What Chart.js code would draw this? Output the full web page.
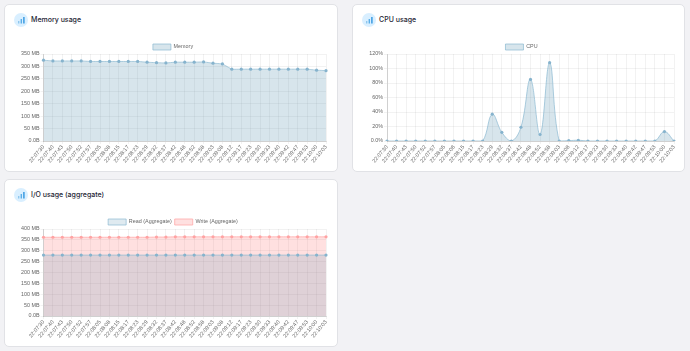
<!DOCTYPE html>
<html><head><meta charset="utf-8">
<script src="https://cdn.jsdelivr.net/npm/chart.js@4"></script>
<style>
html,body{margin:0;padding:0;background:#f2f2f5;width:690px;height:351px;overflow:hidden;font-family:Inter,"Noto Sans",sans-serif}
.card{position:absolute;background:#fff;border:1px solid #e1e2e6;border-radius:5px;box-sizing:border-box}
.ico{position:absolute;left:9px;top:8px;width:14px;height:14px;border-radius:50%;background:#d9efff}
.ico svg{position:absolute;left:0;top:0}
.ttl{position:absolute;left:26px;top:8px;font-size:7px;line-height:14px;font-weight:500;color:#1d2433;white-space:nowrap}
canvas{position:absolute;filter:blur(0.3px)}
</style></head><body>
<div class="card" style="left:4px;top:4px;width:334px;height:168px"><div class="ico"><svg width="14" height="14"><rect x="4" y="8" width="1.4" height="2.5" fill="#8fc7ee"/><rect x="6.6" y="6" width="1.4" height="4.5" fill="#5aaee8"/><rect x="9.2" y="4" width="1.4" height="6.5" fill="#2f95e0"/></svg></div><div class="ttl">Memory usage</div></div>
<div class="card" style="left:352px;top:4px;width:333px;height:168px"><div class="ico"><svg width="14" height="14"><rect x="4" y="8" width="1.4" height="2.5" fill="#8fc7ee"/><rect x="6.6" y="6" width="1.4" height="4.5" fill="#5aaee8"/><rect x="9.2" y="4" width="1.4" height="6.5" fill="#2f95e0"/></svg></div><div class="ttl">CPU usage</div></div>
<div class="card" style="left:4px;top:179px;width:334px;height:168px"><div class="ico"><svg width="14" height="14"><rect x="4" y="8" width="1.4" height="2.5" fill="#8fc7ee"/><rect x="6.6" y="6" width="1.4" height="4.5" fill="#5aaee8"/><rect x="9.2" y="4" width="1.4" height="6.5" fill="#2f95e0"/></svg></div><div class="ttl">I/O usage (aggregate)</div></div>
<canvas id="c1" width="334" height="136" style="left:4px;top:36px;width:334px;height:136px"></canvas>
<canvas id="c2" width="333" height="136" style="left:352px;top:36px;width:333px;height:136px"></canvas>
<canvas id="c3" width="334" height="136" style="left:4px;top:211px;width:334px;height:136px"></canvas>
<script>
const timeLabels=["22:07:30","22:07:40","22:07:43","22:07:50","22:07:52","22:07:57","22:08:05","22:08:08","22:08:15","22:08:17","22:08:23","22:08:29","22:08:32","22:08:37","22:08:42","22:08:48","22:08:52","22:08:58","22:09:03","22:09:08","22:09:12","22:09:17","22:09:23","22:09:30","22:09:33","22:09:40","22:09:42","22:09:47","22:09:53","22:10:00","22:10:03"];
const memoryMB=[325,322,322,322,322,320,320,320,320,320,320,317,315,314,317,317,317,318,313,310,289,289,289,289,289,289,289,289,289,285,283];
const cpuPct=[0,0,0,0,0,0,0,0,0,0,0,37,12,0,19,85,9,108,0,0.5,1,0,0,0,0,0,0,0,0,13,0];
const readMB=[280,280,280,280,280,280,280,280,280,280,280,280,280,280,280,280,280,280,280,280,280,280,280,280,280,280,280,280,280,280,280];
const writeMB=[362,362,362,362,362,362,362,362,362,362,362,362,363,363,364,364,364,364,364,364,364,364,364,364,364,364,364,364,364,364,364];
const blue={bg:'rgba(75,137,170,0.22)',line:'rgba(140,185,210,0.7)',pt:'#86b3cd'};
const blueIO={bg:'rgba(75,137,170,0.18)',line:'rgba(140,185,210,0.7)',pt:'#86b3cd'};
const red={bg:'rgba(255,99,99,0.2)',line:'rgba(255,170,170,0.8)',pt:'#ffa3a3'};
const ds=(label,data,c,tension)=>({label,data,backgroundColor:c.bg,borderColor:c.line,borderWidth:1,pointRadius:1.6,pointBackgroundColor:c.pt,pointBorderColor:c.pt,pointBorderWidth:0,fill:true,tension});
const mb=v=>v===0?'0.0B':v+' MB';
const pct=v=>v===0?'0.0%':v+'%';
const fnt={size:5.4,family:'Liberation Sans'};
const legendFit={id:'legendFit',beforeLayout(chart){const l=chart.legend;if(!l._w){l._w=1;const f=l.fit;l.fit=function(){f.call(this);this.height=13}}}};
function make(id,datasets,yMax,step,fmt,pl,yw,right){
 new Chart(document.getElementById(id),{type:'line',data:{labels:timeLabels,datasets},plugins:[legendFit],options:{
  responsive:false,animation:false,
  layout:{padding:{top:5,left:pl,right:right,bottom:0}},
  plugins:{tooltip:{enabled:false},legend:{display:true,position:'top',labels:{boxWidth:18,boxHeight:6,padding:3,color:'#666',font:fnt}}},
  scales:{
   x:{ticks:{color:'#666',font:fnt,minRotation:50,maxRotation:50,autoSkip:false,padding:0},grid:{color:'rgba(0,0,0,0.05)',tickLength:3},border:{color:'rgba(0,0,0,0.14)',width:1},afterFit(s){s.height=31}},
   y:{min:0,max:yMax,ticks:{stepSize:step,autoSkip:false,color:'#666',font:fnt,padding:1,callback:fmt},grid:{color:'rgba(0,0,0,0.05)',tickLength:3},border:{color:'rgba(0,0,0,0.14)',width:1},afterFit(s){s.width=yw}}
  }}});
}
make('c1',[ds('Memory',memoryMB,blue,0.1)],350,50,mb,16,23.5,12);
make('c2',[ds('CPU',cpuPct,blue,0.4)],120,20,pct,17,18,11);
make('c3',[ds('Read (Aggregate)',readMB,blueIO,0.1),ds('Write (Aggregate)',writeMB,red,0.1)],400,50,mb,16,23.5,12);
</script>
</body></html>
